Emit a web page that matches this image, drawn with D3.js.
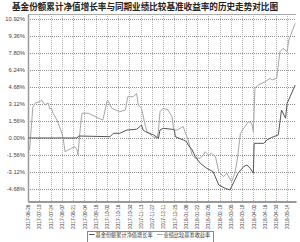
<!DOCTYPE html>
<html>
<head>
<meta charset="utf-8">
<title>基金份额累计净值增长率与同期业绩比较基准收益率的历史走势对比图</title>
<style>
  body { margin: 0; background: #fff; }
  svg { display: block; }
</style>
</head>
<body>
<script src="https://d3js.org/d3.v7.min.js"></script>
<script>

var width = 300,
    height = 242;

var titleText = "基金份额累计净值增长率与同期业绩比较基准收益率的历史走势对比图";
var seriesNames = ["基金份额累计净值增长率", "业绩比较基准收益率"];

var startDate = "2017-06-26";

var tickLabels = ["2017-06-26","2017-07-10","2017-07-24","2017-08-07","2017-08-21","2017-09-04",
                  "2017-09-18","2017-10-02","2017-10-16","2017-10-30","2017-11-13","2017-11-27",
                  "2017-12-11","2017-12-25","2018-01-08","2018-01-22","2018-02-05","2018-02-19",
                  "2018-03-05","2018-03-19","2018-04-02","2018-04-16","2018-04-30","2018-05-14"];

var yTicks = [-4.68, -3.12, -1.56, 0, 1.56, 3.12, 4.68, 6.24, 7.80, 9.36, 10.92];

// days after start, and return in %
var fundDays   = [0, 61, 63, 102, 106, 114, 123, 135, 139, 141, 143, 146, 156, 162, 164, 168, 179, 182,
                  183, 193, 197, 199, 204, 208, 214, 222, 230, 237, 245, 251, 256, 261, 268, 272, 276,
                  280, 281, 293, 297, 303, 311, 315, 320, 322, 332];
var fundValues = [0.00, 0.00, 0.18, 0.12, 0.43, 0.43, 0.73, 0.80, 1.04, 1.19, 0.73, 0.58, 0.28, -0.03, 0.73, 0.89, 0.80, 0.73,
                  0.12, -0.18, -0.34, -0.64, -1.10, -1.72, -2.32, -2.78, -3.09, -4.31, -4.62, -4.77, -4.01, -3.24, -2.63, -2.48, -2.78,
                  -3.24, -0.49, -0.49, -0.18, 0.06, 0.28, 2.57, 1.81, 3.18, 4.86];

var benchDays   = [0, 2, 6, 9, 15, 17, 21, 25, 27, 29, 31, 36, 42, 44, 46, 50, 54, 58, 61, 62,
                   65, 67, 75, 90, 93, 98, 99, 104, 114, 121, 124, 131, 135, 137, 141, 146, 148,
                   155, 160, 162, 164, 168, 174, 179, 181, 185, 189, 193, 195, 199, 204, 208, 214,
                   218, 220, 224, 228, 233, 237, 243, 247, 253, 257, 260, 264, 268, 274, 278, 280,
                   282, 286, 295, 301, 303, 309, 313, 317, 322, 324, 332];
var benchValues = [-0.83, -1.10, 2.84, 3.21, 3.33, 3.49, 3.03, 3.21, 2.66, 2.75, 2.29, 1.65, 0.46, -0.18, -1.26, -1.10, -0.95, -0.80, -1.10, -1.56,
                   0.90, 2.27, 2.27, 1.74, 1.65, 3.33, 3.49, 2.73, 2.41, 2.57, 3.79, 3.79, 4.10, 3.03, 2.73, 1.04, 0.58,
                   0.12, -0.03, 0.58, 2.41, 2.73, 2.57, 1.95, 0.73, 0.73, 0.89, 1.04, 0.58, -0.18, -1.56, -1.86, -1.86,
                   -1.56, -1.26, -1.56, -1.40, -1.72, -3.09, -3.55, -3.24, -4.01, -3.24, -2.02, 0.43, 0.89, 1.50, 1.35, 0.58,
                   4.56, 4.86, 5.17, 5.48, 5.32, 5.48, 7.92, 8.23, 7.92, 8.99, 10.53];

var plotLeft = 28, plotRight = 296, plotTop = 14, plotBottom = 201.5;

var parse = d3.timeParse("%Y-%m-%d");
var start = parse(startDate);
function toDate(d) { return d3.timeDay.offset(start, d); }

var x = d3.scaleTime()
    .domain([start, toDate(333)])
    .range([plotLeft, plotRight]);

var y = d3.scaleLinear()
    .domain([-5.83, 11.38])
    .range([plotBottom, plotTop]);

var svg = d3.select("body")
    .append("svg")
    .attr("width", width)
    .attr("height", height);

// title
svg.append("text")
    .attr("x", 145)
    .attr("y", 10)
    .attr("text-anchor", "middle")
    .attr("font-family", "'Noto Sans CJK SC', sans-serif")
    .attr("font-weight", "bold")
    .attr("font-size", "8.8px")
    .attr("textLength", 266)
    .attr("lengthAdjust", "spacingAndGlyphs")
    .attr("fill", "#222")
    .text(titleText);

// horizontal grid
svg.append("g")
    .selectAll("line")
    .data(yTicks)
    .enter().append("line")
    .attr("x1", plotLeft).attr("x2", plotRight)
    .attr("y1", function(d){ return Math.round(y(d)) + 0.5; })
    .attr("y2", function(d){ return Math.round(y(d)) + 0.5; })
    .attr("stroke", "#8c8c8c")
    .attr("stroke-dasharray", "1,1");

// vertical grid
var tickDates = tickLabels.map(parse);
svg.append("g")
    .selectAll("line")
    .data(tickDates.slice(1))
    .enter().append("line")
    .attr("x1", function(d){ return Math.round(x(d)) + 0.5; })
    .attr("x2", function(d){ return Math.round(x(d)) + 0.5; })
    .attr("y1", plotTop).attr("y2", plotBottom)
    .attr("stroke", "#b4b4b4")
    .attr("stroke-dasharray", "1,1");

// top border line
svg.append("line")
    .attr("x1", plotLeft).attr("x2", plotRight)
    .attr("y1", plotTop + 0.5).attr("y2", plotTop + 0.5)
    .attr("stroke", "#aaa");

var yAxis = d3.axisLeft(y)
    .tickValues(yTicks)
    .tickSize(0)
    .tickPadding(3)
    .tickFormat(function(d){ return d.toFixed(2) + "%"; });

svg.append("g")
    .attr("transform", "translate(" + plotLeft + ",0)")
    .call(yAxis)
    .call(function(g){
        g.select(".domain").attr("stroke", "#999").attr("stroke-width", 1.5);
        g.selectAll("text")
         .attr("font-family", "'Liberation Sans', Arial, sans-serif")
         .attr("font-size", "5.8px")
         .attr("fill", "#444");
    });

var xAxis = d3.axisBottom(x)
    .tickValues(tickDates)
    .tickSize(0)
    .tickFormat(function(d, i){ return tickLabels[i]; });

svg.append("g")
    .attr("transform", "translate(0," + plotBottom + ")")
    .call(xAxis)
    .call(function(g){
        g.select(".domain").attr("stroke", "#999").attr("stroke-width", 2);
        g.selectAll("text")
         .attr("font-family", "'Liberation Sans', Arial, sans-serif")
         .attr("font-size", "4.8px")
         .attr("fill", "#444")
         .attr("text-anchor", "end")
         .attr("transform", "rotate(-90)")
         .attr("x", -3)
         .attr("y", 0)
         .attr("dy", "0.35em");
    });

// lines
var line = d3.line()
    .x(function(d){ return x(toDate(d[0])); })
    .y(function(d){ return y(d[1]); });

var benchData = d3.zip(benchDays, benchValues);
var fundData = d3.zip(fundDays, fundValues);

svg.append("path")
    .datum(benchData)
    .attr("fill", "none")
    .attr("stroke", "#a6a6a6")
    .attr("stroke-width", 1)
    .attr("d", line);

svg.append("path")
    .datum(fundData)
    .attr("fill", "none")
    .attr("stroke", "#555")
    .attr("stroke-width", 1)
    .attr("d", line);

// legend
var legend = svg.append("g");
legend.append("rect")
    .attr("x", 87.5).attr("y", 231.5)
    .attr("width", 126).attr("height", 14)
    .attr("fill", "#fff")
    .attr("stroke", "#888");

var legendItems = [
    {name: seriesNames[0], color: "#555", x: 89},
    {name: seriesNames[1], color: "#a6a6a6", x: 157}
];

var li = legend.selectAll("g.item")
    .data(legendItems)
    .enter().append("g")
    .attr("class", "item");

li.append("line")
    .attr("x1", function(d){ return d.x; })
    .attr("x2", function(d){ return d.x + 5.5; })
    .attr("y1", 234.5).attr("y2", 234.5)
    .attr("stroke", function(d){ return d.color; })
    .attr("stroke-width", 1);

li.append("text")
    .attr("x", function(d){ return d.x + 6.5; })
    .attr("y", 236.5)
    .attr("font-family", "'Noto Sans CJK SC', sans-serif")
    .attr("font-size", "5.2px")
    .attr("fill", "#333")
    .text(function(d){ return d.name; });

</script>
</body>
</html>
